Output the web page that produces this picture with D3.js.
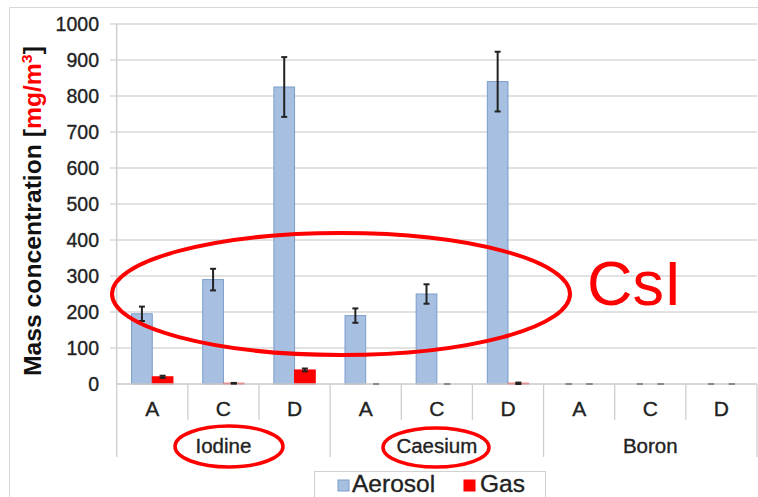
<!DOCTYPE html>
<html>
<head>
<meta charset="utf-8">
<script src="https://cdn.jsdelivr.net/npm/d3@7"></script>
<style>
  body { margin: 0; background: #fff; }
  svg { display: block; font-family: "Liberation Sans", Arial, sans-serif; }
  .lbl { stroke: #222; stroke-width: 0.35; }
</style>
</head>
<body>
<svg width="758" height="497"></svg>
<script>
// data
const groups = ["Iodine", "Caesium", "Boron"];
const samples = ["A", "C", "D"];
const series = ["Aerosol", "Gas"];
const aerosol = [195, 290, 825, 190, 250, 840, 0, 0, 0];
const aerosolErr = [20, 30, 83, 20, 27, 83, 0, 0, 0];
const gas = [20, 2, 39, 0, 0, 2, 0, 0, 0];
const gasErr = [3, 1, 4, 0, 0, 2, 0, 0, 0];
const yTicks = [0, 100, 200, 300, 400, 500, 600, 700, 800, 900, 1000];

const colors = { Aerosol: "#a7c0e1", Gas: "#ff0000" };
const strokes = { Aerosol: "#7c9ccb", Gas: "#ff0000" };

const svg = d3.select("svg");

// chart frame
svg.append("path")
    .attr("d", "M9.5,497 V7.5 H758")
    .attr("fill", "none")
    .attr("stroke", "#d9d9d9")
    .attr("stroke-width", 1);

const cats = [];
groups.forEach(g => samples.forEach(s => cats.push(g + "|" + s)));

const x = d3.scaleBand().domain(cats).range([116.7, 757]);
const xs = d3.scaleBand().domain(series).range([0, x.bandwidth()]).paddingOuter(0.72);
const y = d3.scaleLinear().domain([0, 1000]).range([384, 24]);

// gridlines
svg.append("g")
    .selectAll("line")
    .data(yTicks.filter(d => d > 0))
    .join("line")
    .attr("x1", 110).attr("x2", 757)
    .attr("y1", d => y(d)).attr("y2", d => y(d))
    .attr("stroke", "#d9d9d9")
    .attr("stroke-width", 1.5);

// y tick labels
svg.append("g")
    .selectAll("text")
    .data(yTicks)
    .join("text")
    .attr("class", "lbl")
    .attr("x", 99)
    .attr("y", d => y(d) + 7)
    .attr("text-anchor", "end")
    .attr("font-size", 19.5)
    .attr("fill", "#222")
    .text(d => d);

// y axis line
svg.append("line")
    .attr("x1", 116.7).attr("x2", 116.7)
    .attr("y1", 24).attr("y2", 384)
    .attr("stroke", "#d0d0d0").attr("stroke-width", 1.5);

// bars
const rows = [];
cats.forEach((c, i) => {
    rows.push({ c, s: "Aerosol", v: aerosol[i], e: aerosolErr[i] });
    rows.push({ c, s: "Gas", v: gas[i], e: gasErr[i] });
});

svg.append("g")
    .selectAll("rect")
    .data(rows.filter(d => d.v > 0))
    .join("rect")
    .attr("x", d => x(d.c) + xs(d.s))
    .attr("width", xs.bandwidth())
    .attr("y", d => y(d.v))
    .attr("height", d => y(0) - y(d.v))
    .attr("fill", d => colors[d.s])
    .attr("stroke", d => strokes[d.s])
    .attr("stroke-width", 1);

// x axis line + category ticks
svg.append("line")
    .attr("x1", 116.7).attr("x2", 757)
    .attr("y1", 384).attr("y2", 384)
    .attr("stroke", "#c8c8c8").attr("stroke-width", 1.5);

const edges = d3.range(cats.length + 1);
svg.append("g")
    .selectAll("line")
    .data(edges)
    .join("line")
    .attr("x1", i => i < cats.length ? x(cats[i]) : 757)
    .attr("x2", i => i < cats.length ? x(cats[i]) : 757)
    .attr("y1", 384)
    .attr("y2", i => i % samples.length == 0 ? 457 : 420)
    .attr("stroke", "#cfcfcf")
    .attr("stroke-width", 1.3);

// error bars
const eb = svg.append("g").attr("stroke", "#222").attr("stroke-width", 2);
rows.forEach(d => {
    const cx = x(d.c) + xs(d.s) + xs.bandwidth() / 2;
    const top = y(d.v + d.e), bot = y(Math.max(0, d.v - d.e));
    if (d.e > 0) {
        eb.append("line").attr("x1", cx).attr("x2", cx).attr("y1", top).attr("y2", bot);
    }
    eb.append("line").attr("x1", cx - 3).attr("x2", cx + 3).attr("y1", top).attr("y2", top)
        .attr("stroke", d.e > 0 ? "#222" : "#888");
    eb.append("line").attr("x1", cx - 3).attr("x2", cx + 3).attr("y1", bot).attr("y2", bot)
        .attr("stroke", d.e > 0 ? "#222" : "#888");
});

// sample labels
svg.append("g")
    .selectAll("text")
    .data(cats)
    .join("text")
    .attr("class", "lbl")
    .attr("x", c => x(c) + x.bandwidth() / 2)
    .attr("y", 416)
    .attr("text-anchor", "middle")
    .attr("font-size", 21)
    .attr("fill", "#222")
    .text(c => c.split("|")[1]);

// group labels
svg.append("g")
    .selectAll("text")
    .data(groups)
    .join("text")
    .attr("class", "lbl")
    .attr("x", (g, i) => x(cats[i * 3]) + x.bandwidth() * 1.5)
    .attr("y", 453)
    .attr("text-anchor", "middle")
    .attr("font-size", 20.5)
    .attr("fill", "#222")
    .text(g => g);

// y axis title
const yt = svg.append("text")
    .attr("transform", "translate(41,376) rotate(-90)")
    .attr("font-size", 23)
    .attr("font-weight", "bold")
    .attr("textLength", 330)
    .attr("lengthAdjust", "spacingAndGlyphs")
    .attr("fill", "#111");
yt.append("tspan").text("Mass concentration [");
yt.append("tspan").attr("fill", "#ff0000").text("mg/m");
yt.append("tspan").attr("fill", "#ff0000").attr("font-size", 15).attr("dy", -9).text("3");
yt.append("tspan").attr("dy", 9).text("]");

// legend
const lg = svg.append("g");
lg.append("rect")
    .attr("x", 314.5).attr("y", 471.5).attr("width", 231).attr("height", 30)
    .attr("fill", "#fff").attr("stroke", "#d0d0d0");
const items = [{ s: "Aerosol", x: 338 }, { s: "Gas", x: 464 }];
items.forEach(d => {
    lg.append("rect")
        .attr("x", d.x).attr("y", 480).attr("width", 11).attr("height", 11)
        .attr("fill", colors[d.s]).attr("stroke", strokes[d.s]);
    lg.append("text")
        .attr("class", "lbl")
        .attr("x", d.x + (d.s == "Gas" ? 16 : 14)).attr("y", 492)
        .attr("font-size", 24.5)
        .attr("fill", "#222")
        .text(d.s);
});

// annotations
const ann = svg.append("g").attr("fill", "none").attr("stroke", "#ff0000");
ann.append("ellipse").attr("cx", 341).attr("cy", 294).attr("rx", 229).attr("ry", 61).attr("stroke-width", 4);
ann.append("ellipse").attr("cx", 229).attr("cy", 446.5).attr("rx", 54).attr("ry", 20.5).attr("stroke-width", 3.5);
ann.append("ellipse").attr("cx", 436).attr("cy", 447.5).attr("rx", 53).attr("ry", 19.5).attr("stroke-width", 3.5);

svg.append("text")
    .attr("x", 587).attr("y", 305)
    .attr("font-size", 63)
    .attr("fill", "#ff0000")
    .text("CsI");
</script>
</body>
</html>
